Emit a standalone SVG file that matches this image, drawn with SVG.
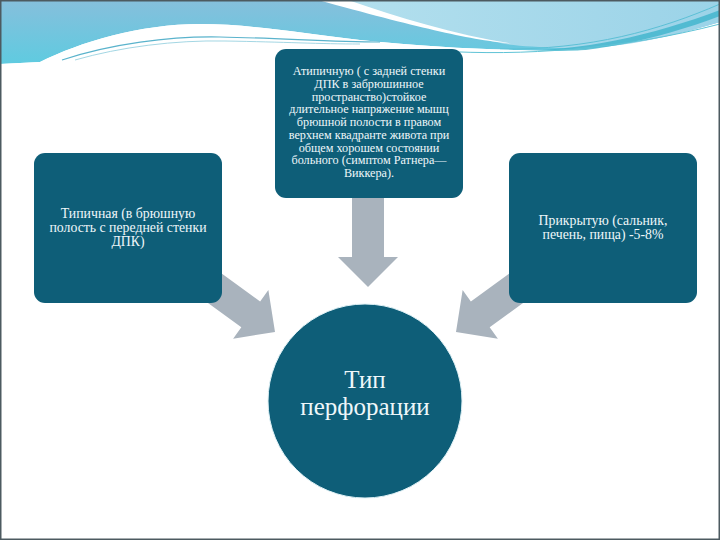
<svg xmlns="http://www.w3.org/2000/svg" width="720" height="540" viewBox="0 0 720 540">
<defs>
<linearGradient id="gTopL" x1="0" y1="0" x2="0" y2="1">
<stop offset="0" stop-color="#86bfdc"/>
<stop offset="1" stop-color="#5fcbe0"/>
</linearGradient>
<linearGradient id="gTopR" x1="0" y1="0" x2="1" y2="0">
<stop offset="0" stop-color="#b4e0ee"/>
<stop offset="1" stop-color="#9bd3e8"/>
</linearGradient>
<polygon id="arrowShape" points="0,0 -30,-30 -30,-16 -92,-16 -92,16 -30,16 -30,30"/>
</defs>
<style>
.node{fill:#0e5e78}
.arrow{fill:#a9b3bd}
.t{font-family:"Liberation Serif","DejaVu Serif",serif;fill:#eef7fa;text-anchor:middle}
.s{font-size:12.2px}
.m{font-size:13.8px}
.l{font-size:25px}
</style>
<rect x="0" y="0" width="720" height="540" fill="#ffffff"/>
<g id="background">
<path d="M0,0 H720 V22 C660,40 600,52 520,50 C470,49 420,46 360,40 C300,33 250,24 200,24 C140,24 80,42 40,62 L0,64 Z" fill="url(#gTopL)"/>
<path d="M330,0 H720 V22 C660,40 610,50 560,48 C540,47 520,46 505,44 C440,30 380,14 330,0 Z" fill="url(#gTopR)"/>
<path d="M318,0 H348 C400,18 460,36 515,44 C470,40 420,28 318,0 Z" fill="#ffffff"/>
<path d="M470,50 C560,56 640,40 720,10 V16 C640,46 560,60 470,52 Z" fill="#3fb4cc" opacity="0.8"/>
<path d="M500,49 C590,50 660,30 720,4" fill="none" stroke="#5cc0d6" stroke-width="1"/>
<path d="M40,62 C80,42 140,24 200,24 C250,24 300,33 360,40 C420,46 470,49 520,50 C600,54 660,44 720,28 V70 H0 V64 Z" fill="#ffffff"/>
<path d="M62,60 C110,44 170,36 220,37 C280,38 330,42 380,42" fill="none" stroke="#5ab3cc" stroke-width="1.2"/>
<path d="M75,60 C120,47 175,40 225,41 C285,42 320,44 360,44" fill="none" stroke="#8ccbdc" stroke-width="0.8"/>
<path d="M440,51 C520,56 620,50 720,24" fill="none" stroke="#5fc3d6" stroke-width="1"/>
</g>
<rect x="0.75" y="0.75" width="718.5" height="538.5" fill="none" stroke="#4d5a60" stroke-width="1.5"/>
<g id="connectors">
<use href="#arrowShape" class="arrow" transform="translate(368,287) rotate(90)"/>
<use href="#arrowShape" class="arrow" transform="translate(275,332) rotate(36)"/>
<use href="#arrowShape" class="arrow" transform="translate(456,332) scale(-1,1) rotate(36)"/>
</g>
<g id="node-top">
<rect class="node" x="275" y="49" width="188" height="149" rx="11"/>
<text class="t s"><tspan x="369" y="75">Атипичную ( с задней стенки</tspan><tspan x="369" y="87.8">ДПК в забрюшинное</tspan><tspan x="369" y="100.5">пространство)стойкое</tspan><tspan x="369" y="113.3">длительное напряжение мышц</tspan><tspan x="369" y="126">брюшной полости в правом</tspan><tspan x="369" y="138.8">верхнем квадранте живота при</tspan><tspan x="369" y="151.5">общем хорошем состоянии</tspan><tspan x="369" y="164.3">больного (симптом Ратнера—</tspan><tspan x="369" y="177">Виккера).</tspan></text>
</g>
<g id="node-left">
<rect class="node" x="34" y="153" width="188" height="150" rx="11"/>
<text class="t m"><tspan x="128" y="218">Типичная (в брюшную</tspan><tspan x="128" y="232">полость с передней стенки</tspan><tspan x="128" y="246">ДПК)</tspan></text>
</g>
<g id="node-right">
<rect class="node" x="509" y="153" width="188" height="150" rx="11"/>
<text class="t m"><tspan x="603" y="225">Прикрытую (сальник,</tspan><tspan x="603" y="239">печень, пища) -5-8%</tspan></text>
</g>
<g id="node-center">
<circle class="node" cx="365" cy="401" r="97" stroke="#dff1f6" stroke-width="1"/>
<text class="t l"><tspan x="365" y="388">Тип</tspan><tspan x="365" y="415">перфорации</tspan></text>
</g>
</svg>
